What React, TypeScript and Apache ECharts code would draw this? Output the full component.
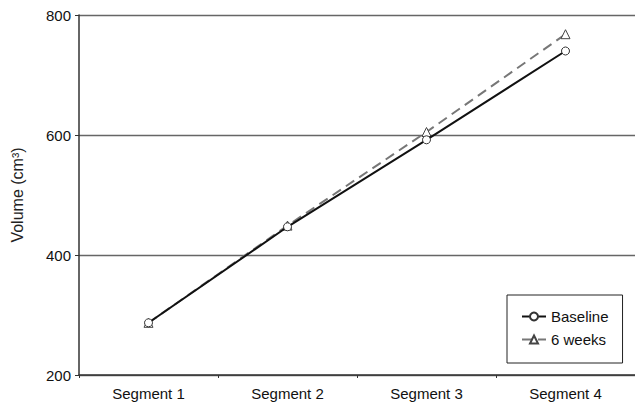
import React, { useEffect, useRef } from "react";
import * as echarts from "echarts";

const categories = ["Segment 1", "Segment 2", "Segment 3", "Segment 4"];
const baseline = [287, 447, 592, 740];
const sixWeeks = [287, 449, 605, 768];
const yTicks = { min: 200, max: 800, interval: 200 };

export default function App() {
  const ref = useRef<HTMLDivElement>(null);
  useEffect(() => {
    if (!ref.current) return;
    const chart = echarts.init(ref.current, undefined, { renderer: "svg" });
    const font = "Liberation Sans, Arial, sans-serif";
    chart.setOption({
      animation: false,
      textStyle: { fontFamily: font },
      grid: { left: 79, top: 15, bottom: 34, width: 560 },
      legend: {
        orient: "vertical",
        left: 507,
        top: 295,
        width: 116,
        height: 68,
        padding: [14, 14, 16, 14],
        itemGap: 8,
        itemWidth: 24,
        itemHeight: 10,
        borderColor: "#222",
        borderWidth: 1,
        textStyle: { fontSize: 15, color: "#111", fontFamily: font },
        data: ["Baseline", "6 weeks"],
      },
      xAxis: {
        type: "category",
        data: categories,
        boundaryGap: true,
        axisLine: { lineStyle: { color: "#333", width: 1.5 } },
        axisTick: { show: true, length: 3, lineStyle: { color: "#333" } },
        axisLabel: { fontSize: 15, color: "#111", margin: 11, fontFamily: font },
      },
      yAxis: {
        type: "value",
        min: yTicks.min,
        max: yTicks.max,
        interval: yTicks.interval,
        name: "Volume (cm³)",
        nameLocation: "middle",
        nameGap: 54,
        nameTextStyle: { fontSize: 16, color: "#222", fontFamily: font },
        axisLine: { show: true, lineStyle: { color: "#333", width: 1.5 } },
        axisTick: { show: true, length: 4, lineStyle: { color: "#333" } },
        axisLabel: { fontSize: 15, color: "#111", margin: 8, fontFamily: font },
        splitLine: { lineStyle: { color: "#666", width: 1.3 } },
      },
      series: [
        {
          name: "Baseline",
          type: "line",
          data: baseline,
          symbol: "circle",
          symbolSize: 8,
          lineStyle: { color: "#111", width: 2 },
          itemStyle: { color: "#fff", borderColor: "#333", borderWidth: 1 },
          z: 3,
        },
        {
          name: "6 weeks",
          type: "line",
          data: sixWeeks,
          symbol: "triangle",
          symbolSize: 9,
          lineStyle: { color: "#777", width: 2, type: [10, 6] },
          itemStyle: { color: "#fff", borderColor: "#444", borderWidth: 1 },
          z: 2,
        },
      ],
    });
    return () => chart.dispose();
  }, []);
  return <div ref={ref} style={{ width: 635, height: 409, position: "absolute", left: 0, top: 0 }} />;
}
